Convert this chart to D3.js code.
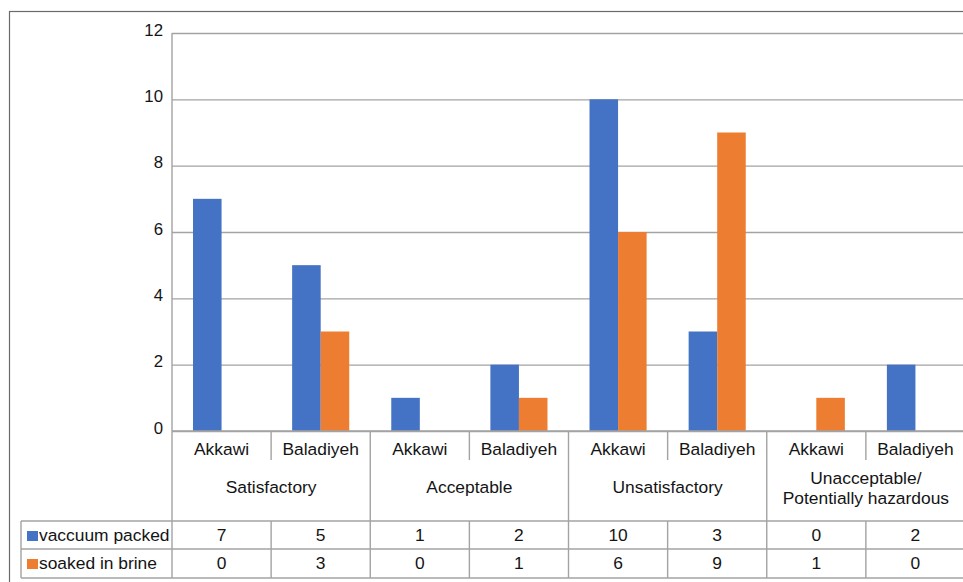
<!DOCTYPE html>
<html lang="en">
<head>
  <meta charset="utf-8" />
  <title>Cheese samples by quality class</title>
  <script src="https://cdn.jsdelivr.net/npm/d3@7/dist/d3.min.js"></script>
  <style>
    body {
      margin: 0;
      background: #fff;
      font-family: "Liberation Sans", Arial, sans-serif;
    }
    text {
      fill: #141414;
      font-size: 17.4px;
    }
    .grid line, .rule {
      stroke: #a3a3a3;
      stroke-width: 1.4px;
    }
  </style>
</head>
<body>
  <div id="graphic"></div>

  <script>
    // data
    var groups = ["Satisfactory", "Acceptable", "Unsatisfactory", "Unacceptable/\nPotentially hazardous"];
    var cheeses = ["Akkawi", "Baladiyeh"];
    var vaccuumPacked = [7, 5, 1, 2, 10, 3, 0, 2];
    var soakedInBrine = [0, 3, 0, 1, 6, 9, 1, 0];
    var yTicks = [0, 2, 4, 6, 8, 10, 12];

    var series = [
      { name: "vaccuum packed", values: vaccuumPacked, colour: "#4472c4" },
      { name: "soaked in brine", values: soakedInBrine, colour: "#ed7d31" }
    ];

    var width = 963, height = 582;
    var plot = { left: 172, right: 965, top: 33, bottom: 431 };
    var tableLeft = 21;
    var rowLines = [521, 549, 578];

    var cols = [];
    groups.forEach(function(g, gi) {
      cheeses.forEach(function(c, ci) {
        cols.push({ group: gi, cheese: c, idx: gi * cheeses.length + ci });
      });
    });

    var x = d3.scaleBand()
      .domain(cols.map(function(d) { return d.idx; }))
      .range([plot.left, plot.right]);

    var barW = x.bandwidth() * 0.288;

    var y = d3.scaleLinear()
      .domain([0, 12])
      .range([plot.bottom, plot.top]);

    var svg = d3.select("#graphic").append("svg")
      .attr("width", width)
      .attr("height", height);

    // outer frame
    svg.append("rect")
      .attr("x", 9.5).attr("y", 11.5)
      .attr("width", 1000).attr("height", 600)
      .attr("fill", "none")
      .attr("stroke", "#6b6b6b")
      .attr("stroke-width", 1.2);

    // gridlines
    var yAxis = d3.axisLeft(y)
      .tickValues(yTicks)
      .tickSize(-(plot.right - plot.left))
      .tickPadding(9)
      .tickFormat(d3.format("d"));

    var ga = svg.append("g")
      .attr("class", "grid")
      .attr("transform", "translate(" + plot.left + ",0)")
      .call(yAxis);
    ga.select(".domain").remove();
    ga.selectAll("text")
      .attr("dy", "0.0em")
      .attr("y", 2)
      .style("font-size", "16.8px");

    // bars
    series.forEach(function(s, si) {
      svg.append("g").selectAll("rect")
        .data(cols)
        .enter().append("rect")
        .attr("x", function(d) {
          var c = x(d.idx) + x.bandwidth() / 2;
          return si === 0 ? c - barW : c;
        })
        .attr("y", function(d) { return y(s.values[d.idx]); })
        .attr("width", barW)
        .attr("height", function(d) { return y(0) - y(s.values[d.idx]); })
        .attr("fill", s.colour);
    });

    // left axis line
    svg.append("line").attr("class", "rule")
      .attr("x1", plot.left).attr("x2", plot.left)
      .attr("y1", plot.top).attr("y2", rowLines[2]);

    // zero line
    svg.append("line").attr("class", "rule")
      .attr("x1", plot.left).attr("x2", plot.right)
      .attr("y1", y(0)).attr("y2", y(0));

    // dividers between cheese types (short) and groups (full)
    cols.forEach(function(d, i) {
      if (i === 0) return;
      var xx = x(d.idx);
      if (i % cheeses.length === 0) {
        svg.append("line").attr("class", "rule")
          .attr("x1", xx).attr("x2", xx)
          .attr("y1", plot.bottom).attr("y2", rowLines[2]);
      } else {
        svg.append("line").attr("class", "rule")
          .attr("x1", xx).attr("x2", xx)
          .attr("y1", plot.bottom).attr("y2", 460);
        svg.append("line").attr("class", "rule")
          .attr("x1", xx).attr("x2", xx)
          .attr("y1", rowLines[0]).attr("y2", rowLines[2]);
      }
    });

    // last right edge
    svg.append("line").attr("class", "rule")
      .attr("x1", plot.right).attr("x2", plot.right)
      .attr("y1", plot.bottom).attr("y2", rowLines[2]);

    // cheese labels
    svg.append("g").selectAll("text")
      .data(cols)
      .enter().append("text")
      .attr("x", function(d) { return x(d.idx) + x.bandwidth() / 2; })
      .attr("y", 455)
      .attr("text-anchor", "middle")
      .text(function(d) { return d.cheese; });

    // group labels
    groups.forEach(function(g, gi) {
      var cx = x(gi * cheeses.length) + x.bandwidth();
      var lines = g.split("\n");
      var t = svg.append("text")
        .attr("text-anchor", "middle")
        .attr("y", lines.length > 1 ? 483.5 : 493);
      lines.forEach(function(l, li) {
        t.append("tspan")
          .attr("x", cx)
          .attr("dy", li === 0 ? 0 : 20)
          .text(l);
      });
    });

    // data table rows
    rowLines.forEach(function(ry) {
      svg.append("line").attr("class", "rule")
        .attr("x1", tableLeft).attr("x2", plot.right)
        .attr("y1", ry).attr("y2", ry);
    });
    svg.append("line").attr("class", "rule")
      .attr("x1", tableLeft).attr("x2", tableLeft)
      .attr("y1", rowLines[0]).attr("y2", rowLines[2]);

    series.forEach(function(s, si) {
      var top = rowLines[si];
      svg.append("rect")
        .attr("x", 27).attr("y", top + 10)
        .attr("width", 11).attr("height", 10)
        .attr("fill", s.colour);
      svg.append("text")
        .attr("x", 39).attr("y", top + 20)
        .text(s.name);
      svg.append("g").selectAll("text")
        .data(cols)
        .enter().append("text")
        .attr("x", function(d) { return x(d.idx) + x.bandwidth() / 2; })
        .attr("y", top + 20)
        .attr("text-anchor", "middle")
        .text(function(d) { return s.values[d.idx]; });
    });
  </script>
</body>
</html>
